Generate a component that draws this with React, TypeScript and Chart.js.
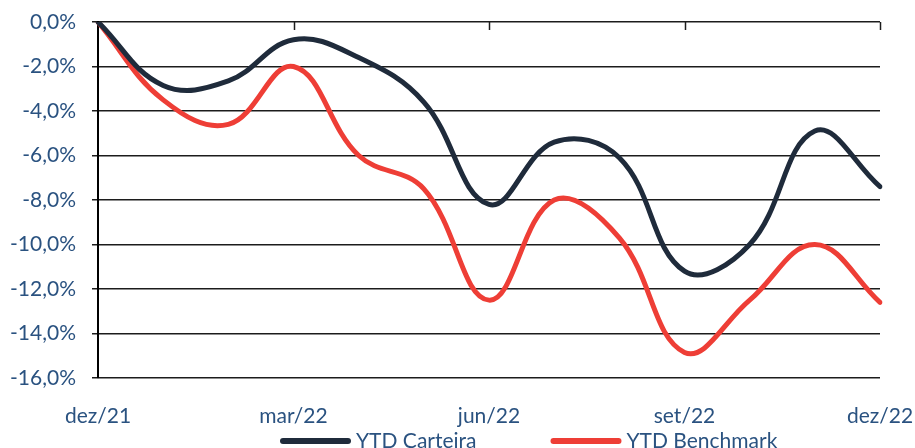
import React, { useEffect, useRef } from 'react';
import { Chart, registerables } from 'chart.js';

Chart.register(...registerables);

// ---- data ----
const months = [
  'dez/21', 'jan/22', 'fev/22', 'mar/22', 'abr/22', 'mai/22', 'jun/22',
  'jul/22', 'ago/22', 'set/22', 'out/22', 'nov/22', 'dez/22',
];
const carteira = [0, -2.85, -2.65, -0.8, -1.6, -3.6, -8.2, -5.4, -6.1, -11.2, -10.0, -4.9, -7.4];
const benchmark = [0, -3.5, -4.6, -2.0, -6.0, -7.5, -12.5, -8.0, -9.7, -14.85, -12.5, -10.0, -12.6];
const seriesNames = ['YTD Carteira', 'YTD Benchmark'];
const yMin = -16;
const yMax = 0;
const yStep = 2;
const labelEvery = 3;

// ---- style ----
const FONT_FAMILY = 'Lato, "Open Sans", sans-serif';
const FONT_SIZE = 21;
const TEXT_COLOR = '#2A5280';
const GRID_COLOR = '#1c1c1c';
const NAVY = '#1F2B3B';
const RED = '#EE3E36';

const fmtPct = (v: number) => `${Number(v).toFixed(1).replace('.', ',')}%`;

export default function App() {
  const ref = useRef<HTMLCanvasElement | null>(null);

  useEffect(() => {
    const canvas = ref.current;
    if (!canvas) return;

    const topTicks = {
      id: 'topTicks',
      beforeDatasetsDraw(chart: any) {
        const { ctx } = chart;
        const x = chart.scales.x;
        const y = chart.scales.y;
        const y0 = y.getPixelForValue(0);
        ctx.save();
        ctx.strokeStyle = GRID_COLOR;
        ctx.lineWidth = 1.5;
        months.forEach((_, i) => {
          if (i === 0 || i % labelEvery !== 0) return;
          const px = Math.round(x.getPixelForValue(i)) + 0.5;
          ctx.beginPath();
          ctx.moveTo(px, y0);
          ctx.lineTo(px, y0 + 8);
          ctx.stroke();
        });
        ctx.restore();
      },
    };

    const legendPlugin = {
      id: 'bottomLegend',
      afterDraw(chart: any) {
        const { ctx } = chart;
        const swatch = 65;
        const textGap = 8;
        const itemGap = 77;
        let x = chart.chartArea.left + 185;
        const y = chart.height - 7;
        ctx.save();
        ctx.font = `${FONT_SIZE}px ${FONT_FAMILY}`;
        ctx.textBaseline = 'middle';
        ctx.textAlign = 'left';
        chart.data.datasets.forEach((ds: any) => {
          ctx.strokeStyle = ds.borderColor;
          ctx.lineWidth = 6;
          ctx.lineCap = 'round';
          ctx.beginPath();
          ctx.moveTo(x, y);
          ctx.lineTo(x + swatch, y);
          ctx.stroke();
          x += swatch + textGap;
          ctx.fillStyle = TEXT_COLOR;
          ctx.fillText(ds.label, x, y);
          x += ctx.measureText(ds.label).width + itemGap;
        });
        ctx.restore();
      },
    };

    const chart = new Chart(canvas, {
      type: 'line',
      data: {
        labels: months,
        datasets: [
          {
            label: seriesNames[0],
            data: carteira,
            borderColor: NAVY,
            backgroundColor: NAVY,
            borderWidth: 5,
            pointRadius: 0,
            tension: 0.4,
            fill: false,
            borderCapStyle: 'round',
          },
          {
            label: seriesNames[1],
            data: benchmark,
            borderColor: RED,
            backgroundColor: RED,
            borderWidth: 5,
            pointRadius: 0,
            tension: 0.4,
            fill: false,
            borderCapStyle: 'round',
          },
        ],
      },
      options: {
        animation: false,
        responsive: true,
        maintainAspectRatio: false,
        devicePixelRatio: 1,
        layout: { padding: { top: 22, right: 0, left: 0, bottom: 0 } },
        plugins: {
          legend: { display: false },
          tooltip: { enabled: false },
        },
        scales: {
          x: {
            type: 'category',
            offset: false,
            grid: { display: false },
            border: { display: false },
            ticks: {
              autoSkip: false,
              maxRotation: 0,
              padding: 18,
              color: TEXT_COLOR,
              font: { family: FONT_FAMILY, size: FONT_SIZE },
              callback: (_v: any, i: number) => (i % labelEvery === 0 ? months[i] : ''),
            },
            afterFit: (s: any) => {
              s.height = 70;
              s.paddingLeft = 0;
              s.paddingRight = 35;
            },
          },
          y: {
            min: yMin,
            max: yMax,
            ticks: {
              stepSize: yStep,
              padding: 16,
              color: TEXT_COLOR,
              font: { family: FONT_FAMILY, size: FONT_SIZE },
              callback: (v: any) => fmtPct(v),
            },
            grid: { color: GRID_COLOR, lineWidth: 1.5, tickLength: 6, drawTicks: true },
            border: { display: true, color: '#000', width: 2 },
            afterFit: (s: any) => {
              s.width = 98;
              s.paddingTop = 0;
              s.paddingBottom = 0;
            },
          },
        },
      },
      plugins: [topTicks, legendPlugin],
    });

    return () => chart.destroy();
  }, []);

  return (
    <div style={{ position: 'absolute', left: 0, top: 0, width: 915, height: 448 }}>
      <canvas ref={ref} />
    </div>
  );
}
